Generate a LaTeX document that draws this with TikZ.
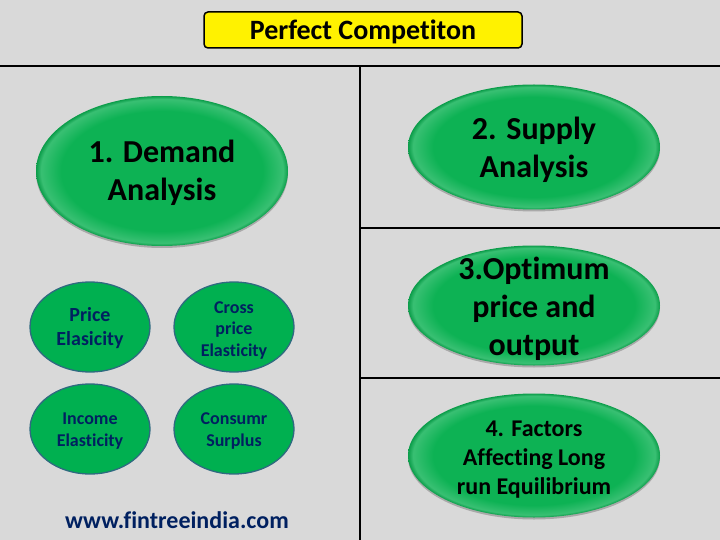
\documentclass[tikz,border=0pt]{standalone}
\usepackage{fontspec}
\setmainfont[Ligatures=NoCommon]{Carlito}
\usetikzlibrary{shapes.geometric,shadows}
\definecolor{slidegray}{HTML}{D9D9D9}
\definecolor{ovalgreen}{HTML}{0DB254}
\definecolor{flatgreen}{HTML}{00B050}
\definecolor{ovaledge}{HTML}{2F6A80}
\definecolor{navytext}{HTML}{002060}
\newcommand{\lowerby}[1]{\rule{0pt}{#1}}
\pgfdeclareradialshading{bevelgreen}{\pgfpoint{0bp}{0bp}}{%
  color(0bp)=(ovalgreen); color(20bp)=(ovalgreen);
  color(24bp)=(ovalgreen!82!white); color(25bp)=(ovalgreen!88!black); color(50bp)=(ovalgreen!88!black)}
\tikzset{
  rule/.style={line width=2.2pt,black},
  bigoval/.style={ellipse,shade,shading=bevelgreen,minimum width=252pt,inner xsep=0pt,inner ysep=-15pt,
    outer sep=0pt,align=center,text=black,
    drop shadow={shadow xshift=0pt,shadow yshift=-2pt,opacity=.22,fill=black}},
  smalloval/.style={ellipse,fill=flatgreen,draw=ovaledge,line width=1.3pt,minimum width=120pt,
    minimum height=90pt,inner xsep=0pt,inner ysep=-5pt,align=center,text=navytext,
    font=\fontsize{18}{21.5}\selectfont\bfseries}
}
\begin{document}
\begin{tikzpicture}[x=1pt,y=-1pt]
\fill[slidegray] (0,0) rectangle (720,540);
\useasboundingbox (0,0) rectangle (720,540);
% frame lines
\coordinate (topl) at (0,66);
\coordinate (topr) at (720,66);
\coordinate (midt) at (360,66);
\coordinate (midb) at (360,540);
\coordinate (rowa) at (360,228);
\coordinate (rowar) at (720,228);
\coordinate (rowb) at (360,378);
\coordinate (rowbr) at (720,378);
\draw[rule] (topl) -- (topr);
\draw[rule] (midt) -- (midb);
\draw[rule] (rowa) -- (rowar);
\draw[rule] (rowb) -- (rowbr);
% title
\node[draw=black,line width=1.5pt,fill=yellow,rounded corners=4pt,minimum width=318pt,minimum height=36pt,
  inner sep=0pt,font=\fontsize{28}{34}\selectfont\bfseries] (title) at (363,30) {\lowerby{24pt}Perfect Competiton};
% big ovals
\node[bigoval,minimum height=150pt,font=\fontsize{32}{38}\selectfont\bfseries] (demand) at (162,171) {\lowerby{27pt}1. Demand\\Analysis};
\node[bigoval,minimum height=125pt,font=\fontsize{32}{38}\selectfont\bfseries] (supply) at (534,147) {\lowerby{29pt}2. Supply\\Analysis};
\node[bigoval,minimum height=120pt,font=\fontsize{32}{38}\selectfont\bfseries] (optimum) at (534,305.5) {\lowerby{29pt}3.Optimum\\price and\\output};
\node[bigoval,minimum height=124pt,font=\fontsize{24}{29}\selectfont\bfseries] (factors) at (534,455.5) {\lowerby{23pt}4. Factors\\Affecting Long\\run Equilibrium};
% small ovals
\node[smalloval,font=\fontsize{20}{24}\selectfont\bfseries] (price) at (90,327) {\lowerby{17pt}Price\\Elasicity};
\node[smalloval] (cross) at (234,327) {\lowerby{18pt}Cross\\price\\Elasticity};
\node[smalloval] (income) at (90,429) {\lowerby{15.5pt}Income\\Elasticity};
\node[smalloval] (surplus) at (234,429) {\lowerby{16pt}Consumr\\Surplus};
% web address
\node[text=navytext,inner sep=0pt,font=\fontsize{24}{29}\selectfont\bfseries] (web) at (177,520) {www.fintreeindia.com};
\end{tikzpicture}
\end{document}
